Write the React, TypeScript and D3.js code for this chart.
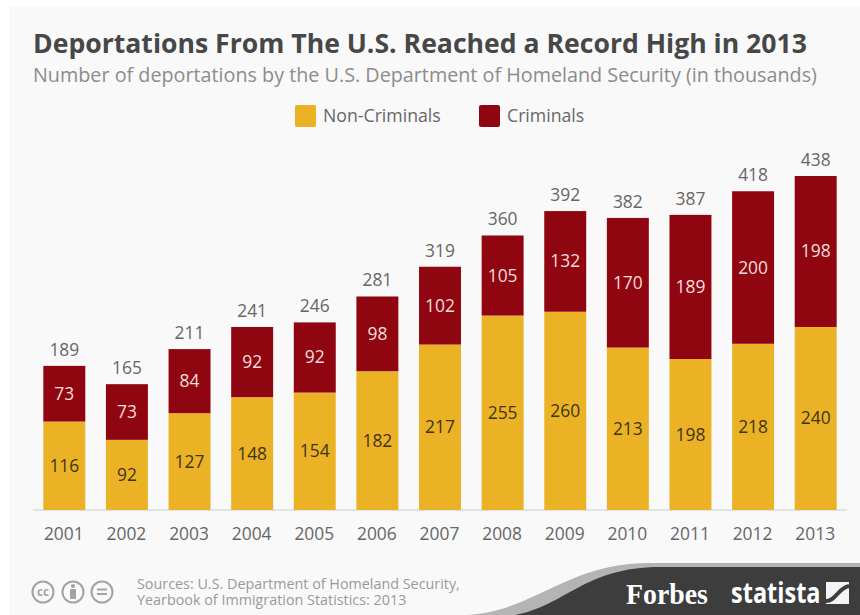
import React from "react";
import * as d3 from "d3";

const years = ["2001","2002","2003","2004","2005","2006","2007","2008","2009","2010","2011","2012","2013"];
const nonCriminals = [116,92,127,148,154,182,217,255,260,213,198,218,240];
const criminals = [73,73,84,92,92,98,102,105,132,170,189,200,198];
const totals = [189,165,211,241,246,281,319,360,392,382,387,418,438];

const W = 860, H = 615;
const FONT = "'Open Sans', sans-serif";
const YELLOW = "#ebb226";
const RED = "#8f0610";
const DARK = "#3d3d3d";
const BADGE = "#a3a3a3";

const x = d3.scaleBand<string>().domain(years).range([33, 847]).paddingInner(0.33).paddingOuter(0.165);
const y = d3.scaleLinear().domain([0, 438]).range([510, 176]);

export default function App() {
  const stacks = d3.stack<number>()
    .keys(["n", "c"])
    .value((i, k) => (k === "n" ? nonCriminals[i] : criminals[i]))(years.map((_, i) => i));
  const [lower, upper] = stacks;
  const bw = x.bandwidth();
  return (
    <svg width={W} height={H} viewBox={`0 0 ${W} ${H}`} style={{ position: "fixed", left: 0, top: 0, fontFamily: FONT }}>
      <rect width={W} height={H} fill="#fff" />
      <rect x={9} y={6} width={W - 9} height={H - 6} fill="#f9f9f9" />

      <text x={33} y={53} fontSize={26.6} fontWeight={700} fill="#474747">Deportations From The U.S. Reached a Record High in 2013</text>
      <text x={33} y={82} fontSize={19.75} fill="#8c8c8c">Number of deportations by the U.S. Department of Homeland Security (in thousands)</text>

      <rect x={295} y={105} width={21} height={22} rx={2} fill={YELLOW} />
      <text x={323} y={122} fontSize={17.7} fill="#666">Non-Criminals</text>
      <rect x={479} y={105} width={21} height={22} rx={2} fill={RED} />
      <text x={507} y={122} fontSize={17.7} fill="#666">Criminals</text>

      <line x1={33} x2={847} y1={510} y2={510} stroke="#c9ced4" strokeWidth={1} />

      {years.map((yr, i) => {
        const bx = x(yr)!;
        const cx = bx + bw / 2;
        const lowTop = y(lower[i][1]);
        const upTop = y(upper[i][1]);
        return (
          <g key={yr} textAnchor="middle" fontSize={17.4}>
            <rect x={bx} width={bw} y={lowTop} height={y(lower[i][0]) - lowTop} fill={YELLOW} />
            <rect x={bx} width={bw} y={upTop} height={lowTop - upTop} fill={RED} />
            <text x={cx} y={(lowTop + 510) / 2 + 6} fill="#3f3516">{nonCriminals[i]}</text>
            <text x={cx} y={(lowTop + upTop) / 2 + 6} fill="#f6dcdc">{criminals[i]}</text>
            <text x={cx} y={upTop - 10} fill="#666">{totals[i]}</text>
            <text x={cx - 0.5} y={540} fill="#666">{yr}</text>
          </g>
        );
      })}

      {/* licence badges */}
      <g fill="none" stroke={BADGE} strokeWidth={2}>
        <circle cx={43} cy={592} r={10.5} />
        <circle cx={73} cy={592} r={10.5} />
        <circle cx={102} cy={592} r={10.5} />
        <line x1={97} x2={107} y1={589.5} y2={589.5} />
        <line x1={97} x2={107} y1={594} y2={594} />
      </g>
      <text x={43} y={596} textAnchor="middle" fontSize={11.5} fontWeight={700} fill={BADGE}>cc</text>
      <circle cx={73} cy={586} r={2} fill={BADGE} />
      <rect x={70} y={589} width={6} height={10} rx={1} fill={BADGE} />

      <text x={137} y={589} fontSize={14.35} fill="#9a9a9a">Sources: U.S. Department of Homeland Security,</text>
      <text x={137} y={605} fontSize={14.35} fill="#9a9a9a">Yearbook of Immigration Statistics: 2013</text>

      {/* footer band with its lighter swoosh */}
      <path d="M 465 615 C 535 612, 565 563, 650 563 L 860 563 L 860 615 Z" fill="#b4b4b4" />
      <path d="M 515 615 C 565 606, 585 567, 660 567 L 860 567 L 860 615 Z" fill={DARK} />
      <text transform="translate(626 604) scale(0.96 1)" fontFamily="'Liberation Serif', serif" fontWeight={700} fontSize={29} fill="#fff">Forbes</text>
      <text transform="translate(731 603) scale(0.84 1)" fontFamily={FONT} fontWeight={700} fontSize={28} fill="#fff">statista</text>
      <rect x={826} y={582} width={23} height={22} fill="#f4f4f4" />
      <path d="M 826 601 C 836 601, 838 588, 849 586" fill="none" stroke={DARK} strokeWidth={4} />
    </svg>
  );
}
